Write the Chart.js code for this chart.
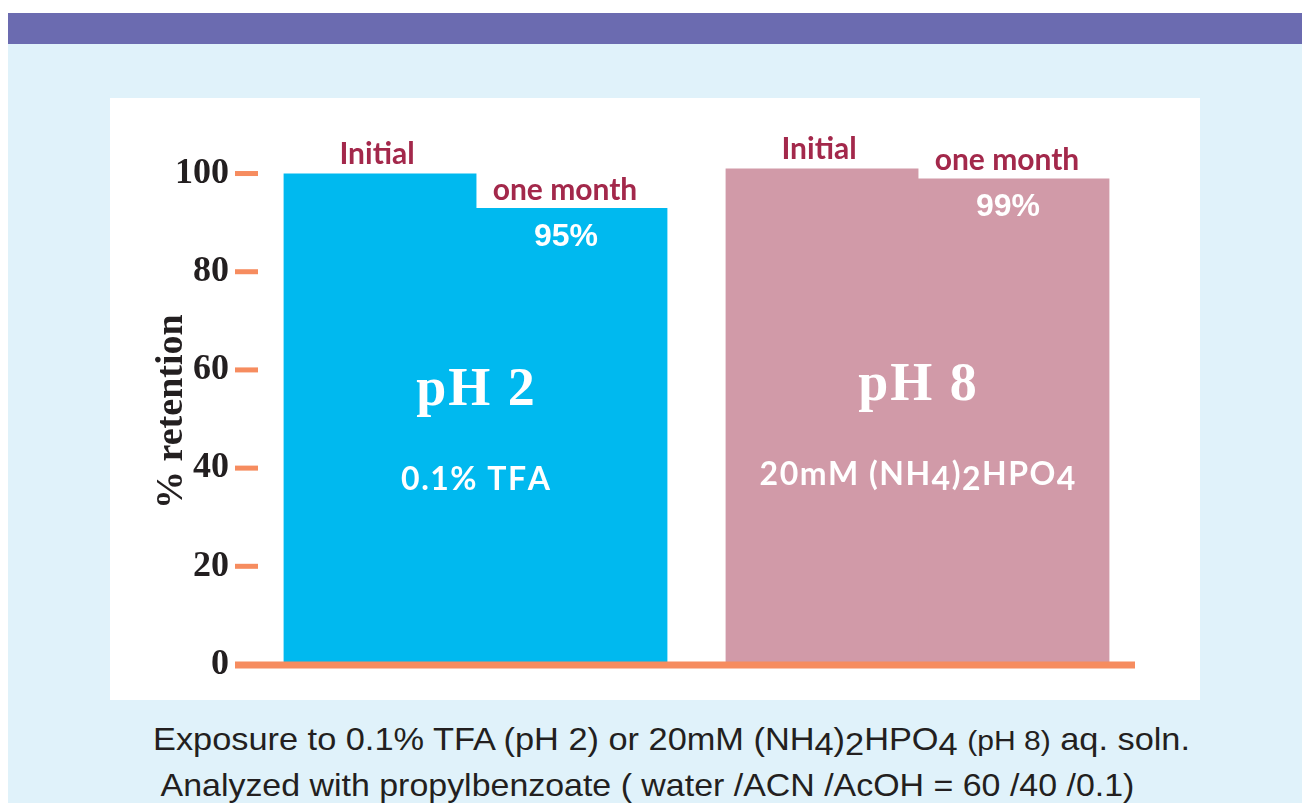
<!DOCTYPE html>
<html lang="en">
<head>
<meta charset="UTF-8">
<title>% retention</title>
<script src="https://cdn.jsdelivr.net/npm/chart.js@4.4.0/dist/chart.umd.min.js"></script>
<style>
    body { margin: 0; background: #fff; width: 1302px; height: 803px; overflow: hidden; position: relative; font-family: "Liberation Sans", Arial, sans-serif; }
    .topbar { position: absolute; left: 8px; top: 13px; width: 1294px; height: 31px; background: #6b6bb0; }
    .back { position: absolute; left: 8px; top: 44px; width: 1294px; height: 759px; background: #e0f2fa; }
    .panel { position: absolute; left: 110px; top: 98px; width: 1090px; height: 602px; background: #fff; }
    .caption { position: absolute; left: 153px; font-size: 32px; line-height: 32px; color: #231f20; white-space: pre; transform-origin: left top; }
    .low { position: relative; top: 5px; }
    .small { font-size: 28px; }
</style>
</head>
<body>
    <div class="topbar"></div>
    <div class="back"></div>
    <div class="panel"><canvas id="chart" width="1090" height="602"></canvas></div>
    <div class="caption" style="top:723px; transform:scaleX(1.073)">Exposure to 0.1% TFA (pH 2) or 20mM (NH<span class="low">4</span>)<span class="low">2</span>HPO<span class="low">4</span> <span class="small">(pH 8)</span> aq. soln.</div>
    <div class="caption" style="top:769px; transform:scaleX(1.06)"> Analyzed with propylbenzoate ( water /ACN /AcOH = 60 /40 /0.1)</div>

<script>
    // values
    const groups = ["pH 2", "pH 8"];
    const buffers = ["0.1% TFA", "20mM (NH4)2HPO4"];
    const seriesNames = ["Initial", "one month"];
    const initialRetention = [100, 101];
    const monthRetention = [93, 99];
    const monthLabels = ["95%", "99%"];
    const yTicks = [0, 20, 40, 60, 80, 100];

    const groupColors = ["#00b9ef", "#d19aa8"];
    const orange = "#f68c5f";
    const crimson = "#a3284b";

    // draws text with a little letter spacing, a digit right after a letter or ")" sits lower
    function drawFormula(ctx, str, cx, y, spacing) {
        let parts = [];
        for (let i = 0; i < str.length; i++) {
            let sub = /\d/.test(str[i]) && i > 0 && /[A-Za-z)]/.test(str[i - 1]);
            parts.push({t: str[i], dy: sub ? 5 : 0});
        }
        let total = 0;
        parts.forEach(p => total += ctx.measureText(p.t).width + spacing);
        total -= spacing;
        let x = cx - total / 2;
        ctx.textAlign = "left";
        parts.forEach(p => {
            ctx.fillText(p.t, x, y + p.dy);
            x += ctx.measureText(p.t).width + spacing;
        });
    }

    const barText = {
        id: "barText",
        afterDatasetsDraw(chart) {
            let ctx = chart.ctx;
            let area = chart.chartArea;
            let yScale = chart.scales.y;
            let y0 = yScale.getPixelForValue(0);
            let m0 = chart.getDatasetMeta(0);
            let m1 = chart.getDatasetMeta(1);

            ctx.save();
            ctx.fillStyle = orange;
            // tick marks and base line
            yScale.ticks.forEach(t => {
                let py = yScale.getPixelForValue(t.value);
                ctx.fillRect(area.left - 19.5, py - 2.5, 23, 5);
            });
            ctx.fillRect(area.left - 19.5, y0 - 3, area.right - area.left + 16, 7);

            ctx.textBaseline = "alphabetic";
            ctx.textAlign = "center";
            ctx.fillStyle = crimson;
            ctx.font = "bold 30px Lato";
            m0.data.forEach(bar => ctx.fillText(seriesNames[0], bar.x - 3, bar.y - 10));
            m1.data.forEach(bar => ctx.fillText(seriesNames[1], bar.x - 6, bar.y - 8));

            ctx.fillStyle = "#fff";
            ctx.font = "bold 32px 'Liberation Sans'";
            m1.data.forEach((bar, i) => ctx.fillText(monthLabels[i], bar.x - 5, bar.y + 38));

            groups.forEach((g, i) => {
                let cx = (m0.data[i].x + m1.data[i].x) / 2;
                let top = m0.data[i].y;
                ctx.font = "bold 54px 'Liberation Serif'";
                drawFormula(ctx, g, cx, top + 231, 2);
                ctx.font = "bold 32px Lato";
                drawFormula(ctx, buffers[i], cx, top + 316, 1.5);
            });
            ctx.restore();
        }
    };

    new Chart("chart", {
        type: "bar",
        data: {
            labels: groups,
            datasets: [{
                label: seriesNames[0],
                data: initialRetention,
                backgroundColor: groupColors,
                barPercentage: 1.01,
                categoryPercentage: 0.864
            }, {
                label: seriesNames[1],
                data: monthRetention,
                backgroundColor: groupColors,
                barPercentage: 1.01,
                categoryPercentage: 0.864
            }]
        },
        options: {
            responsive: false,
            animation: false,
            layout: {padding: {left: 0, right: 61.5, top: 60.8, bottom: 35.5}},
            plugins: {legend: {display: false}, tooltip: {enabled: false}},
            scales: {
                x: {display: false},
                y: {
                    min: 0,
                    max: 103,
                    afterBuildTicks: s => { s.ticks = yTicks.map(v => ({value: v})); },
                    afterFit: s => { s.width = 144.5; },
                    border: {display: false},
                    grid: {drawOnChartArea: false, drawTicks: true, tickLength: 22.5, tickColor: "rgba(0,0,0,0)"},
                    ticks: {
                        autoSkip: false,
                        padding: 3,
                        color: "#231f20",
                        font: {family: "'Liberation Serif'", size: 36, weight: "bold"}
                    },
                    title: {
                        display: true,
                        text: "% retention",
                        color: "#231f20",
                        font: {family: "'Liberation Serif'", size: 38, weight: "bold"},
                        padding: {top: 39, bottom: 0}
                    }
                }
            }
        },
        plugins: [barText]
    });
</script>
</body>
</html>
